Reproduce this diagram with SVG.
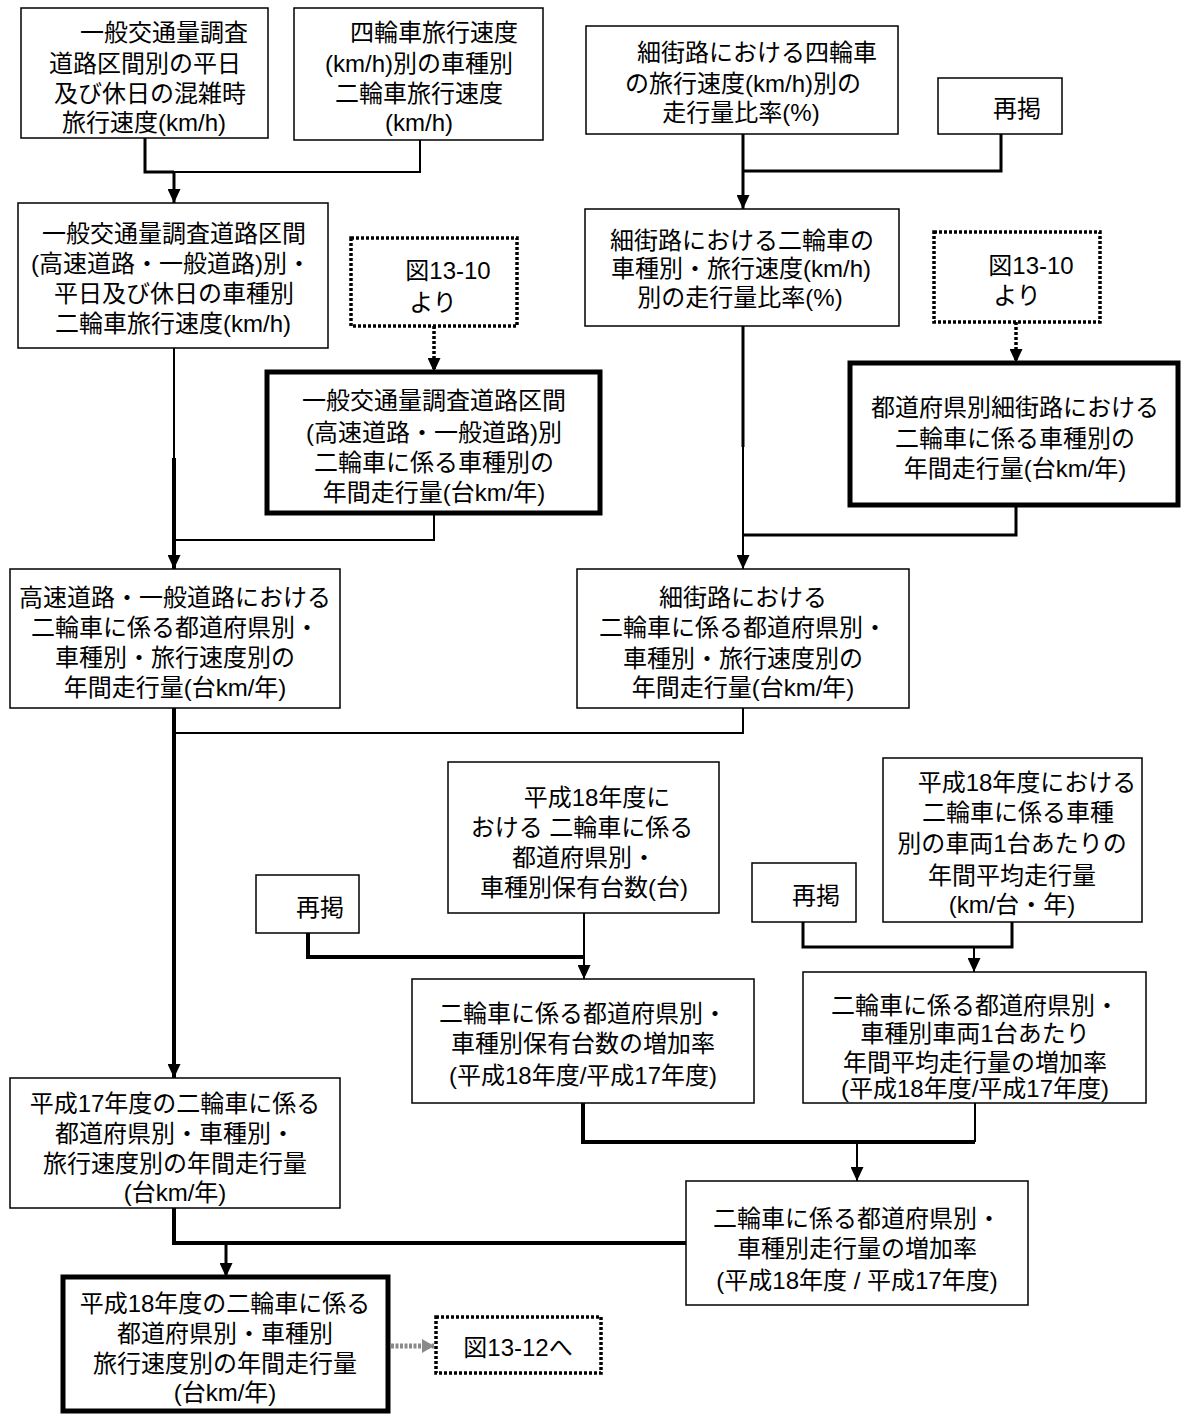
<svg xmlns="http://www.w3.org/2000/svg" width="1182" height="1414" viewBox="0 0 1182 1414">
<style>
text{font-family:"Liberation Sans","Noto Sans CJK JP","Noto Sans CJK SC",sans-serif;font-size:24px;fill:#000;text-anchor:middle}
.b{fill:#fff;stroke:#000;stroke-width:1.5}
.tk{fill:#fff;stroke:#000;stroke-width:5}
.dt{fill:#fff;stroke:#000;stroke-width:3.5;stroke-dasharray:3 2}
.c{fill:none;stroke:#000;stroke-width:2}
.c3{fill:none;stroke:#000;stroke-width:3}
.c4{fill:none;stroke:#000;stroke-width:4}
.cd{fill:none;stroke:#000;stroke-width:3.5;stroke-dasharray:3 2}
.cg{fill:none;stroke:#8a8a8a;stroke-width:5;stroke-dasharray:3 1.5}
</style>
<defs>
<marker id="ah" markerUnits="userSpaceOnUse" markerWidth="14" markerHeight="13" refX="14" refY="6.5" orient="auto"><path d="M0,0 L14,6.5 L0,13 z" fill="#000"/></marker>
<marker id="ag" markerUnits="userSpaceOnUse" markerWidth="12" markerHeight="14" refX="12" refY="7" orient="auto"><path d="M0,0 L12,7 L0,14 z" fill="#8a8a8a"/></marker>
</defs>
<rect width="1182" height="1414" fill="#fff"/>
<g id="connectors">
<path class="c3" d="M145,138 V172 H174"/>
<path class="c3" d="M174,172 V203" marker-end="url(#ah)"/>
<path class="c" d="M420,140 V172 H174"/>
<path class="c3" d="M743,134 V171"/>
<path class="c3" d="M743,171 V209" marker-end="url(#ah)"/>
<path class="c3" d="M1001,134 V171 H743"/>
<path class="c" d="M174,348 V458"/>
<path class="c4" d="M174,458 V569" marker-end="url(#ah)"/>
<path class="cd" d="M434,326 V372" marker-end="url(#ah)"/>
<path class="c" d="M434,513 V540 H174"/>
<path class="c3" d="M743,326 V447"/>
<path class="c" d="M743,447 V569" marker-end="url(#ah)"/>
<path class="cd" d="M1016,322 V363" marker-end="url(#ah)"/>
<path class="c3" d="M1016,505 V535 H743"/>
<path class="c4" d="M174,708 V1078" marker-end="url(#ah)"/>
<path class="c" d="M743,708 V733 H174"/>
<path class="c4" d="M308,933 V957 H584"/>
<path class="c" d="M584,913 V979" marker-end="url(#ah)"/>
<path class="c3" d="M803,922 V947 H1012 V922"/>
<path class="c" d="M974,947 V972" marker-end="url(#ah)"/>
<path class="c" d="M975,1103 V1142"/>
<path class="c4" d="M583,1103 V1142 H975"/>
<path class="c" d="M857,1142 V1181" marker-end="url(#ah)"/>
<path class="c4" d="M174,1208 V1243 H686"/>
<path class="c3" d="M226,1243 V1277" marker-end="url(#ah)"/>
<path class="cg" d="M391,1346 H434" marker-end="url(#ag)"/>
</g>
<g id="nodeA">
<rect class="b" x="21" y="8" width="247" height="130"/>
<text x="164" y="40.5">一般交通量調査</text>
<text x="145" y="71.5">道路区間別の平日</text>
<text x="150" y="101.5">及び休日の混雑時</text>
<text x="144" y="131">旅行速度(km/h)</text>
</g>
<g id="nodeB">
<rect class="b" x="294" y="8" width="249" height="132"/>
<text x="434" y="40.5">四輪車旅行速度</text>
<text x="419" y="71.5">(km/h)別の車種別</text>
<text x="419" y="101.5">二輪車旅行速度</text>
<text x="419" y="131">(km/h)</text>
</g>
<g id="nodeC">
<rect class="b" x="586" y="26" width="312" height="108"/>
<text x="757" y="60.5">細街路における四輪車</text>
<text x="743" y="91.5">の旅行速度(km/h)別の</text>
<text x="741" y="120.5">走行量比率(%)</text>
</g>
<g id="nodeRepost1">
<rect class="b" x="938" y="78" width="124" height="56"/>
<text x="1017" y="116.5">再掲</text>
</g>
<g id="nodeD">
<rect class="b" x="18" y="203" width="310" height="145"/>
<text x="174" y="241.5">一般交通量調査道路区間</text>
<text x="171" y="271.5">(高速道路・一般道路)別・</text>
<text x="174" y="301.5">平日及び休日の車種別</text>
<text x="173" y="331.5">二輪車旅行速度(km/h)</text>
</g>
<g id="nodeFromLeft">
<rect class="dt" x="351" y="238" width="166" height="88"/>
<text x="448" y="278.5">図13-10</text>
<text x="433" y="310.5">より</text>
</g>
<g id="nodeE">
<rect class="b" x="585" y="209" width="314" height="117"/>
<text x="742" y="248.5">細街路における二輪車の</text>
<text x="741" y="276.5">車種別・旅行速度(km/h)</text>
<text x="740" y="305.5">別の走行量比率(%)</text>
</g>
<g id="nodeFromRight">
<rect class="dt" x="934" y="232" width="166" height="90"/>
<text x="1031" y="273.5">図13-10</text>
<text x="1017" y="303.5">より</text>
</g>
<g id="nodeF">
<rect class="tk" x="267" y="372" width="333" height="141"/>
<text x="434" y="408.5">一般交通量調査道路区間</text>
<text x="434" y="440.5">(高速道路・一般道路)別</text>
<text x="434" y="470.5">二輪車に係る車種別の</text>
<text x="434" y="500.5">年間走行量(台km/年)</text>
</g>
<g id="nodeI">
<rect class="tk" x="850" y="363" width="328" height="142"/>
<text x="1015" y="415.5">都道府県別細街路における</text>
<text x="1015" y="446.5">二輪車に係る車種別の</text>
<text x="1015" y="476.5">年間走行量(台km/年)</text>
</g>
<g id="nodeG">
<rect class="b" x="10" y="569" width="330" height="139"/>
<text x="175" y="605.5">高速道路・一般道路における</text>
<text x="175" y="635.5">二輪車に係る都道府県別・</text>
<text x="175" y="665.5">車種別・旅行速度別の</text>
<text x="175" y="695.5">年間走行量(台km/年)</text>
</g>
<g id="nodeH">
<rect class="b" x="577" y="569" width="332" height="139"/>
<text x="743" y="605.5">細街路における</text>
<text x="743" y="635.5">二輪車に係る都道府県別・</text>
<text x="743" y="666.5">車種別・旅行速度別の</text>
<text x="743" y="695.5">年間走行量(台km/年)</text>
</g>
<g id="nodeJ">
<rect class="b" x="448" y="762" width="271" height="151"/>
<text x="597" y="805.5">平成18年度に</text>
<text x="582" y="835.5">おける 二輪車に係る</text>
<text x="584" y="865.5">都道府県別・</text>
<text x="584" y="895.5">車種別保有台数(台)</text>
</g>
<g id="nodeRepost2">
<rect class="b" x="256" y="875" width="103" height="58"/>
<text x="320" y="915.5">再掲</text>
</g>
<g id="nodeL">
<rect class="b" x="883" y="758" width="259" height="164"/>
<text x="1027" y="790.5">平成18年度における</text>
<text x="1018" y="820.5">二輪車に係る車種</text>
<text x="1012" y="851.5">別の車両1台あたりの</text>
<text x="1012" y="883.5">年間平均走行量</text>
<text x="1012" y="913">(km/台・年)</text>
</g>
<g id="nodeRepost3">
<rect class="b" x="752" y="863" width="104" height="59"/>
<text x="816" y="903.5">再掲</text>
</g>
<g id="nodeK">
<rect class="b" x="412" y="979" width="342" height="124"/>
<text x="583" y="1021.5">二輪車に係る都道府県別・</text>
<text x="583" y="1051.5">車種別保有台数の増加率</text>
<text x="583" y="1083.5">(平成18年度/平成17年度)</text>
</g>
<g id="nodeM">
<rect class="b" x="803" y="972" width="343" height="131"/>
<text x="975" y="1013.5">二輪車に係る都道府県別・</text>
<text x="975" y="1041.5">車種別車両1台あたり</text>
<text x="975" y="1070.5">年間平均走行量の増加率</text>
<text x="975" y="1097">(平成18年度/平成17年度)</text>
</g>
<g id="nodeN">
<rect class="b" x="10" y="1078" width="330" height="130"/>
<text x="175" y="1112">平成17年度の二輪車に係る</text>
<text x="175" y="1142">都道府県別・車種別・</text>
<text x="175" y="1172">旅行速度別の年間走行量</text>
<text x="175" y="1201">(台km/年)</text>
</g>
<g id="nodeO">
<rect class="b" x="686" y="1181" width="342" height="124"/>
<text x="857" y="1226.5">二輪車に係る都道府県別・</text>
<text x="857" y="1256.5">車種別走行量の増加率</text>
<text x="857" y="1288.5">(平成18年度 / 平成17年度)</text>
</g>
<g id="nodeP">
<rect class="tk" x="63" y="1277" width="325" height="134"/>
<text x="225" y="1311.5">平成18年度の二輪車に係る</text>
<text x="225" y="1341.5">都道府県別・車種別</text>
<text x="225" y="1371.5">旅行速度別の年間走行量</text>
<text x="225" y="1401">(台km/年)</text>
</g>
<g id="nodeQ">
<rect class="dt" x="436" y="1317" width="165" height="56"/>
<text x="518" y="1355.5">図13-12へ</text>
</g>
</svg>
